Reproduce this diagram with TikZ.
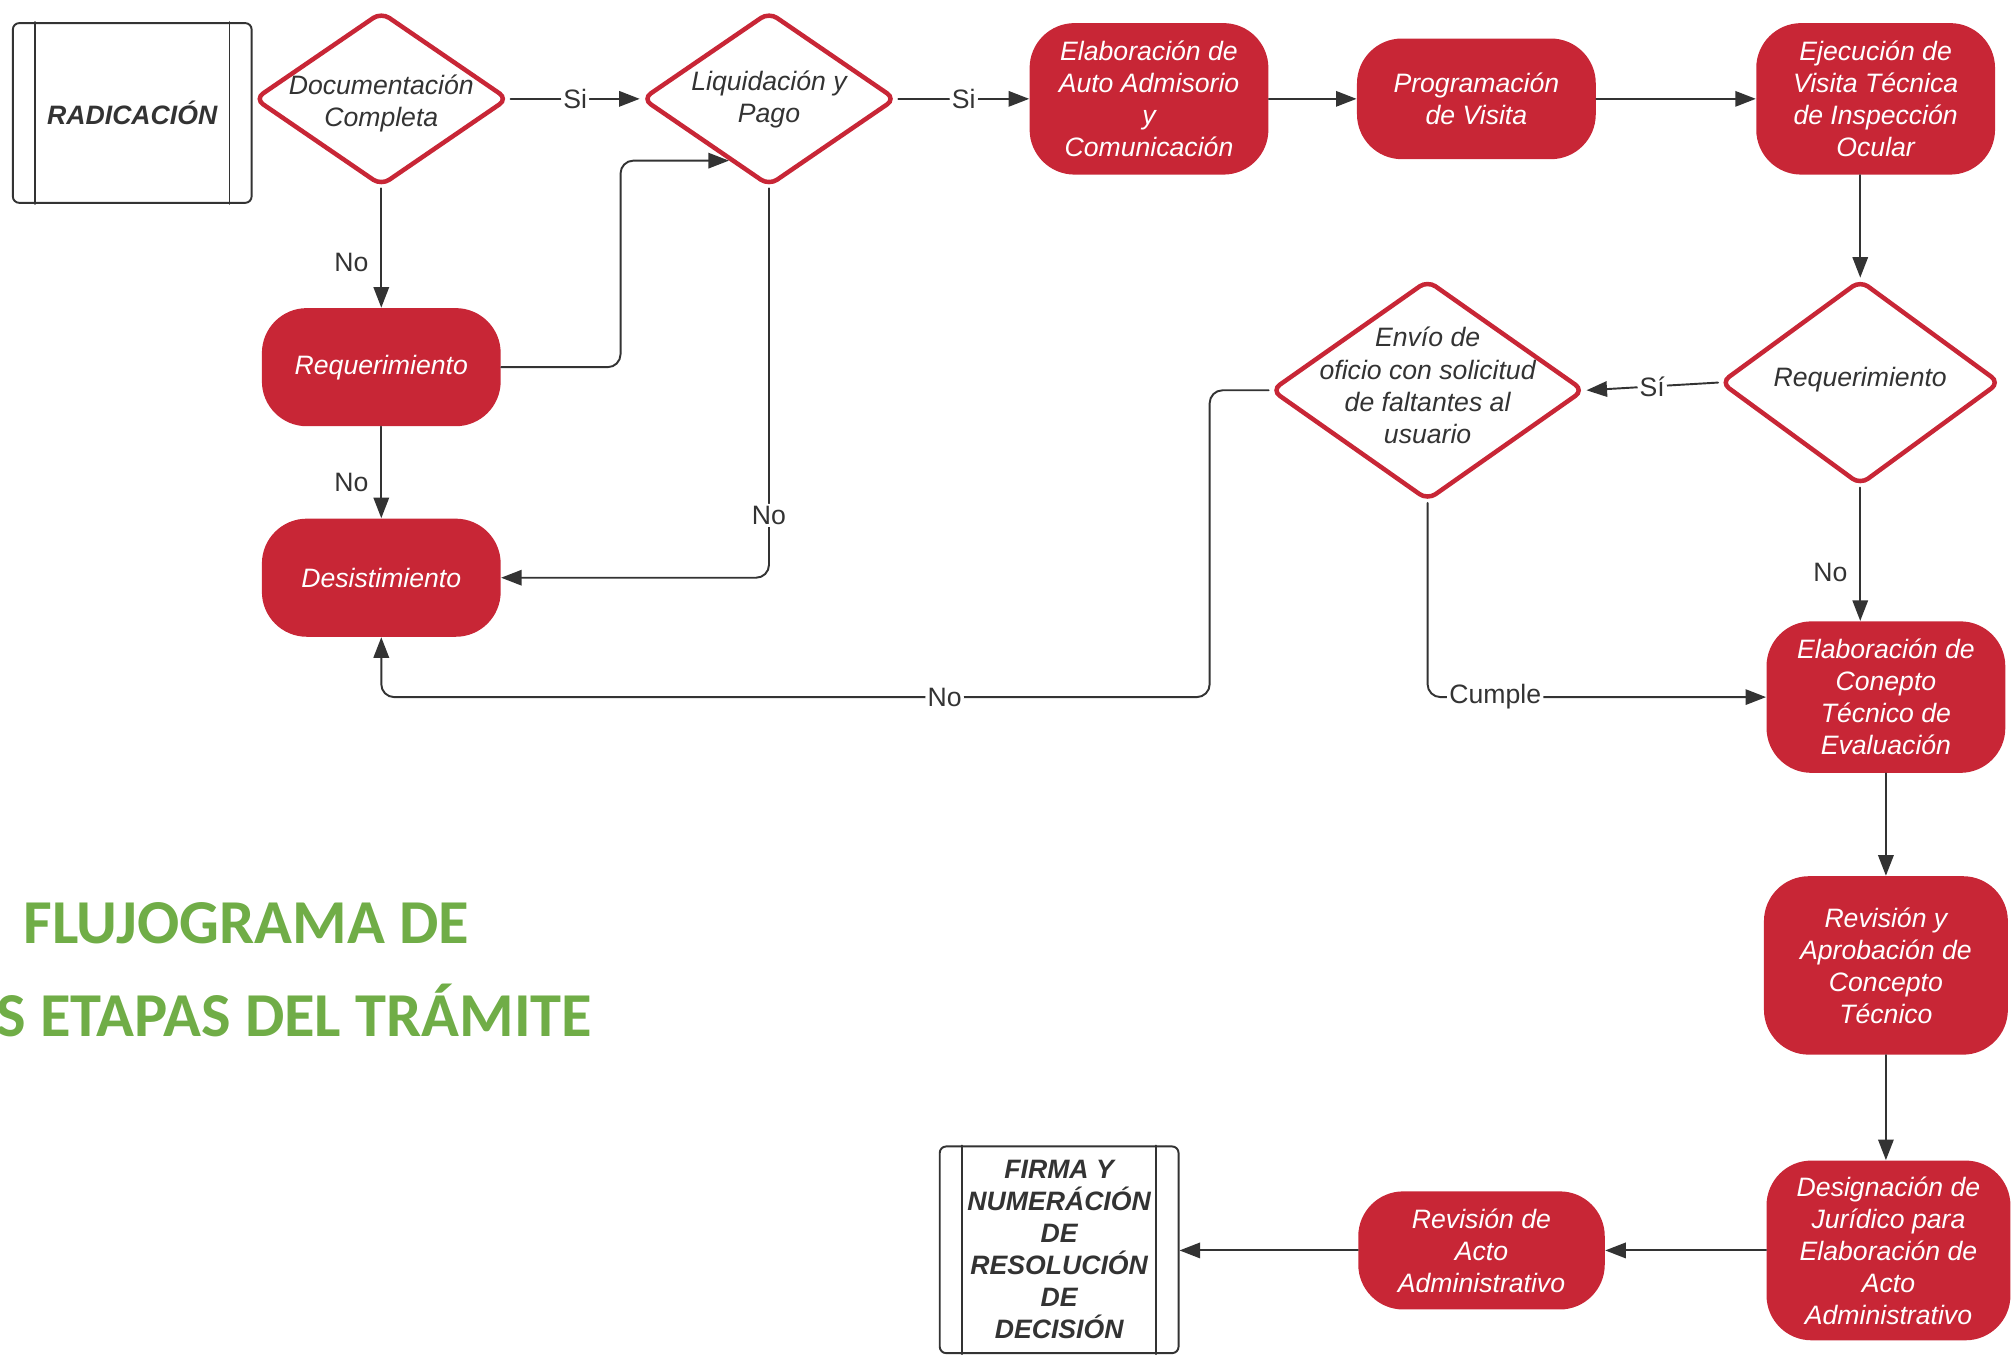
\documentclass[tikz,border=0pt]{standalone}
\usepackage{fontspec}
\setmainfont{Liberation Sans}
\newfontfamily\titlefont{Carlito}
\usetikzlibrary{
    shapes.geometric, % Decision diamonds.
    arrows.meta, % Triangle arrow tips.
    calc, % Entry point on a diamond edge.
}

\definecolor{flowred}{RGB}{200,38,54}
\definecolor{flowgray}{RGB}{51,51,51}
\definecolor{titlegreen}{RGB}{112,173,71}

% Text inside a diamond that does not make the diamond grow.
\newcommand{\dtext}[2][1mm]{\smash{\raisebox{-#1}{\makebox[0pt]{\smash{\begin{tabular}{@{}c@{}}#2\end{tabular}}}}}}

\begin{document}
\begin{tikzpicture}[%
        x = 0.2mm, y = -0.2mm,
        line cap = round,
        every node/.style = {font = \fontsize{11.8}{14.2}\selectfont},
        process/.style = {fill = flowred, text = white, rounded corners = 7mm,
            minimum width = 37.2mm, align = center, inner sep = 0.5mm,
            font = \fontsize{11.8}{14.2}\selectfont\itshape},
        decision/.style = {diamond, draw = flowred, line width = 0.7mm,
            rounded corners = 1.5mm, fill = white, text = flowgray, inner sep = 0pt,
            font = \fontsize{11.8}{14.2}\selectfont\itshape},
        docbox/.style = {draw = flowgray, line width = 0.3mm, rounded corners = 1mm,
            minimum width = 37.2mm, align = center, text = flowgray,
            font = \fontsize{11.8}{14.2}\selectfont\bfseries\itshape},
        flow/.style = {draw = flowgray, line width = 0.3mm, rounded corners = 2mm,
            -{Triangle[length = 3.2mm, width = 2.4mm]}},
        tag/.style = {fill = white, inner sep = 1pt, text = flowgray},
        title/.style = {anchor = base west, text = titlegreen,
            font = \titlefont\bfseries\fontsize{27.7}{34}\selectfont},
    ]

        \useasboundingbox (0, 0) rectangle (1568, 1055);

        % Top row.
        \node[docbox, minimum height = 28mm] (rad) at (103, 88) {RADICACIÓN};
        \node[decision, minimum width = 39.6mm, minimum height = 27.2mm] (doc) at (297, 77)
            {\dtext[1.9mm]{Documentación\\Completa}};
        \node[decision, minimum width = 39.6mm, minimum height = 27.2mm] (liq) at (599, 77)
            {\dtext[1.2mm]{Liquidación y\\Pago}};
        \node[process, minimum height = 23.6mm] (auto) at (895, 77)
            {Elaboración de\\Auto Admisorio\\y\\Comunicación};
        \node[process, minimum height = 18.8mm] (prog) at (1150, 77) {Programación\\de Visita};
        \node[process, minimum height = 23.6mm] (ejec) at (1461, 77)
            {Ejecución de\\Visita Técnica\\de Inspección\\Ocular};

        % Left column.
        \node[process, minimum height = 18.4mm] (reqL) at (297, 286) {Requerimiento};
        \node[process, minimum height = 18.4mm] (desis) at (297, 450) {Desistimiento};

        % Middle decisions.
        \node[decision, minimum width = 43.6mm, minimum height = 32mm] (reqR) at (1449, 298)
            {\dtext[0.6mm]{Requerimiento}};
        \node[decision, minimum width = 48.8mm, minimum height = 34.4mm] (envio) at (1112, 304)
            {\dtext[0.8mm]{Envío de\\oficio con solicitud\\de faltantes al\\usuario}};

        % Right column.
        \node[process, minimum height = 23.6mm] (conc) at (1469, 543)
            {Elaboración de\\Conepto\\Técnico de\\Evaluación};
        \node[process, minimum width = 38mm, minimum height = 27.8mm] (revap) at (1469, 752)
            {Revisión y\\Aprobación de\\Concepto\\Técnico};
        \node[process, minimum width = 38mm, minimum height = 28mm] (desig) at (1471, 974)
            {Designación de\\Jurídico para\\Elaboración de\\Acto\\Administrativo};

        % Bottom row.
        \node[process, minimum width = 38.4mm, minimum height = 18.4mm] (revacto) at (1154, 974)
            {Revisión de\\Acto\\Administrativo};
        \node[docbox, minimum height = 32.2mm] (firma) at (825, 973.5)
            {FIRMA Y\\NUMERÁCIÓN\\DE\\RESOLUCIÓN\\DE\\DECISIÓN};

        % Side bars of the two document boxes.
        \foreach \n in {rad, firma} {
            \draw[flowgray, line width = 0.3mm] ([xshift = 3.6mm]\n.north west) -- ([xshift = 3.6mm]\n.south west);
            \draw[flowgray, line width = 0.3mm] ([xshift = -3.6mm]\n.north east) -- ([xshift = -3.6mm]\n.south east);
        }

        % Connectors.
        \draw[flow] (doc.east) -- node[tag] {Si} (liq.west);
        \draw[flow] (liq.east) -- node[tag] {Si} (auto.west);
        \draw[flow] (auto.east) -- (prog.west);
        \draw[flow] (prog.east) -- (ejec.west);
        \draw[flow] (doc.south) -- node[tag, pos = 0.62, left = 1.5mm] {No} (reqL.north);
        \draw[flow] (reqL.south) -- node[tag, pos = 0.61, left = 1.5mm] {No} (desis.north);
        \coordinate (liqin) at ($(liq.west)!0.69!(liq.south)$);
        \draw[flow] (reqL.east) -- ++(93, 0) |- (liqin);
        \draw[flow] (liq.south) |- node[tag, pos = 0.42] {No} (desis.east);
        \draw[flow] (reqR.north |- ejec.south) -- (reqR.north);
        \draw[flow] (reqR.west) -- node[tag] {Sí} (envio.east);
        \draw[flow] (reqR.south) -- node[tag, pos = 0.64, left = 1.5mm] {No} (reqR.south |- conc.north);
        \coordinate (noturn) at ([xshift = -9.2mm]envio.west |- conc.west);
        \draw[flow] (envio.west) -| (noturn) -| node[tag, pos = 0.16] {No} (desis.south);
        \draw[flow] (envio.south) |- node[tag, pos = 0.6] {Cumple} (conc.west);
        \draw[flow] (conc.south) -- (revap.north);
        \draw[flow] (revap.south) -- (revap.south |- desig.north);
        \draw[flow] (desig.west) -- (revacto.east);
        \draw[flow] (revacto.west) -- (revacto.west -| firma.east);

        % Title, cut at the left edge as in the slide.
        \begin{scope}
            \clip (0, 0) rectangle (1568, 1055);
            \node[title] (title1) at (12, 735) {FLUJOGRAMA DE};
            \node[title] (title2) at (-9, 807) {S ETAPAS DEL TRÁMITE};
        \end{scope}
    \end{tikzpicture}
\end{document}
